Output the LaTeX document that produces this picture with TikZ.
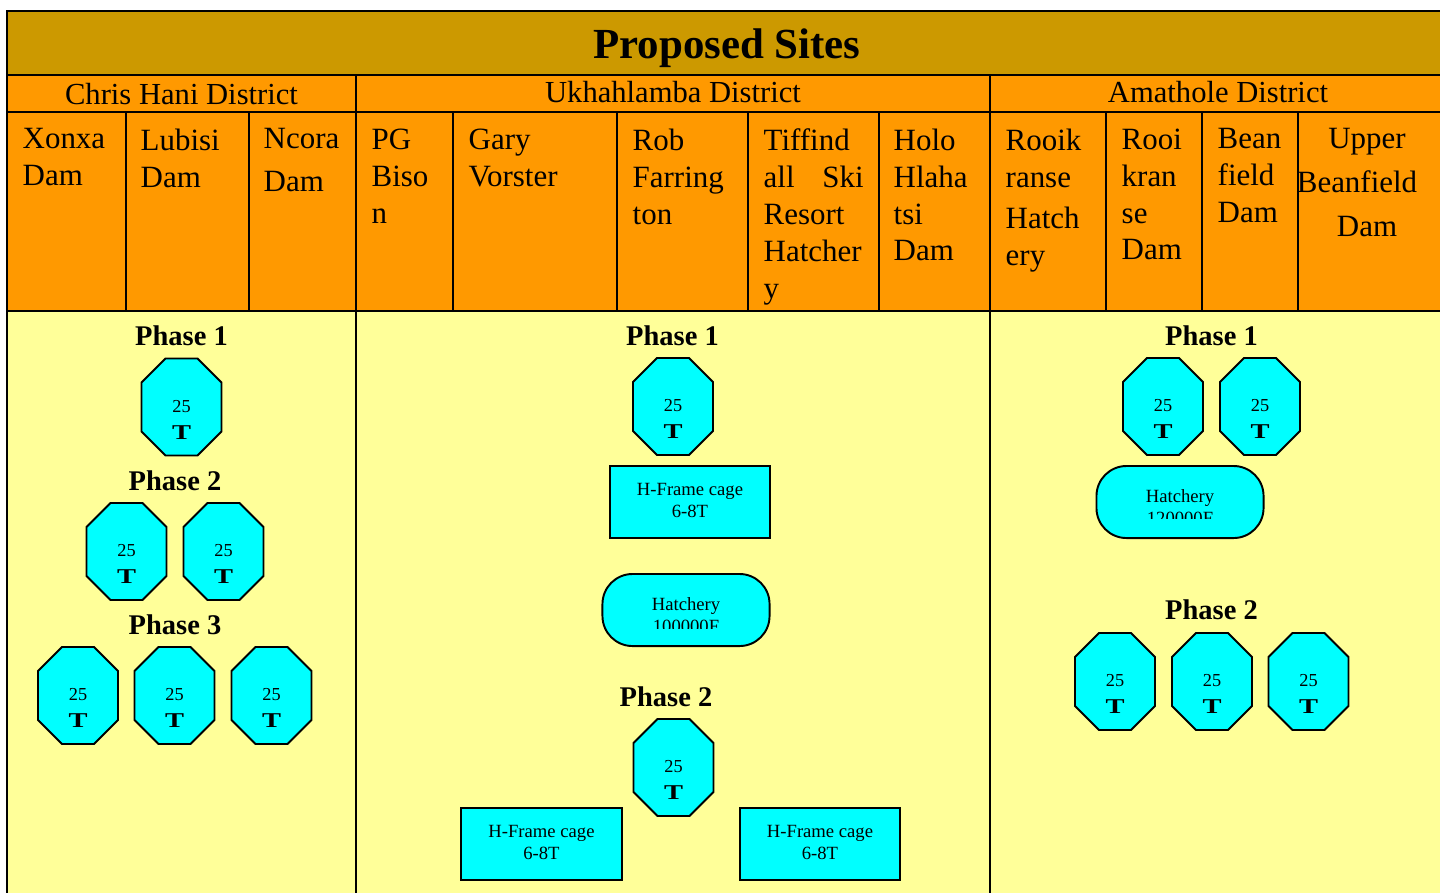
\documentclass[tikz,border=0pt]{standalone}
\usepackage{fontspec}
\setmainfont{Liberation Serif}
\usepackage{tikz}
\usetikzlibrary{calc}
\usepackage{xcolor}
\definecolor{titlegold}{HTML}{CC9900}
\definecolor{siteorange}{HTML}{FF9900}
\definecolor{bodyyellow}{HTML}{FFFF99}
\definecolor{tankcyan}{HTML}{00FFFF}
% octagonal 25T tank: name, centre
\newcommand{\tank}[2]{%
  \filldraw[fill=tankcyan,line width=0.55pt] (#2) ++(-16,-48.5) -- ++(32,0) -- ++(24,24) -- ++(0,49)
      -- ++(-24,24) -- ++(-32,0) -- ++(-24,-24) -- ++(0,-49) -- cycle;
  \node[tanktext] (#1) at ($(#2)+(0,12.5)$) {25\\{\bfseries\fontsize{6}{7.7}\selectfont\scalebox{1.35}[1]{T}}};
}

\begin{document}
\begin{tikzpicture}[x=0.01cm,y=-0.01cm,
    every node/.style={inner sep=0pt},
    site/.style={anchor=north west,align=left,font=\fontsize{8.8}{10.5}\selectfont},
    district/.style={font=\fontsize{8.7}{10.5}\selectfont},
    phase/.style={font=\bfseries\fontsize{8.1}{10}\selectfont},
    tanktext/.style={align=center,font=\fontsize{5.2}{7.7}\selectfont},
    cage/.style={draw,line width=0.55pt,fill=tankcyan,minimum width=1.6cm,minimum height=0.72cm,
        align=center,font=\fontsize{5.3}{6.2}\selectfont},
    hatch/.style={cage,minimum width=1.67cm,rounded corners=0.3cm},
    hatchtext/.style={align=center,font=\fontsize{5.3}{6.1}\selectfont},
    grid/.style={line width=0.6pt}]

    \useasboundingbox[fill=white] (0,0) rectangle (1440,893);

    % Table bands
    \fill[titlegold] (7,11) rectangle (1440,75);
    \fill[siteorange] (7,75) rectangle (1440,311);
    \fill[bodyyellow] (7,311) rectangle (1440,893);

    \draw[grid] (1440,11) -- (7,11) -- (7,893);
    \draw[grid] (7,75) -- (1440,75);
    \draw[grid] (7,112) -- (1440,112);
    \draw[grid] (7,311) -- (1440,311);
    \draw[grid] (356,75) -- (356,893);
    \draw[grid] (990,75) -- (990,893);
    \foreach \cx in {126,249,453,617,748,879,1106,1202,1298}
        \draw[grid] (\cx,112) -- (\cx,311);

    \node[font=\bfseries\fontsize{12.2}{14}\selectfont] (title) at (727,48) {Proposed Sites};

    \node[district] (chrishani) at (181.5,94.5) {Chris Hani District};
    \node[district] (ukhahlamba) at (673,92.5) {Ukhahlamba District};
    \node[district] (amathole) at (1218,92.5) {Amathole District};

    % Site names
    \node[site] (xonxa) at (22,128) {Xonxa\\Dam};
    \node[site] (lubisi) at (140,128) {Lubisi\\Dam};
    \node[site] (ncora) at (263,128) {Ncora\\[1.5pt]Dam};
    \node[site] (pgbison) at (371,128) {PG\\Biso\\n};
    \node[site] (gary) at (468,128) {Gary\\Vorster};
    \node[site] (rob) at (632,128) {Rob\\Farring\\ton};
    \node[site] (tiffindall) at (763,128) {Tiffind\\\makebox[1cm][s]{all Ski}\\Resort\\Hatcher\\y};
    \node[site] (holo) at (893,128) {Holo\\Hlaha\\tsi\\Dam};
    \node[site] (rooikranseH) at (1005,128) {Rooik\\ranse\\[1.2pt]Hatch\\ery};
    \node[site] (rooikranseD) at (1121,128) {Rooi\\kran\\se\\Dam};
    \node[site] (beanfield) at (1217,128) {Bean\\field\\Dam};
    \node[site,anchor=north,align=center,font=\fontsize{8.8}{12.5}\selectfont] (upper) at (1367,128)
        {Upper\\\hspace*{-0.2cm}Beanfield\\Dam};

    % Chris Hani
    \node[phase] (chP1) at (181.5,336) {Phase 1};
    \tank{chT1}{181.5,407}
    \node[phase] (chP2) at (175,481) {Phase 2};
    \tank{chT2}{126.5,551.5}
    \tank{chT3}{223.5,551.5}
    \node[phase] (chP3) at (175,625) {Phase 3};
    \tank{chT4}{78,695.5}
    \tank{chT5}{174.5,695.5}
    \tank{chT6}{271.5,695.5}

    % Ukhahlamba
    \node[phase] (ukP1) at (672.5,336) {Phase 1};
    \tank{ukT1}{673,406.5}
    \node[cage] (ukC1) at (690,502) {H-Frame cage\\6-8T\vphantom{g}};
    \node[hatch] (ukH1) at (686,610) {};
    \begin{scope}
        \clip (ukH1.north west) rectangle ($(ukH1.east)+(0,18)$);
        \node[hatchtext] (ukH1text) at ($(ukH1.center)+(0,5)$) {Hatchery\\100000F};
    \end{scope}
    \node[phase] (ukP2) at (666,697) {Phase 2};
    \tank{ukT2}{673.5,767.5}
    \node[cage] (ukC2) at (541.5,844) {H-Frame cage\\6-8T\vphantom{g}};
    \node[cage] (ukC3) at (820,844) {H-Frame cage\\6-8T\vphantom{g}};

    % Amathole
    \node[phase] (amP1) at (1211.5,336) {Phase 1};
    \tank{amT1}{1163,406.5}
    \tank{amT2}{1260,406.5}
    \node[hatch] (amH1) at (1180,502) {};
    \begin{scope}
        \clip (amH1.north west) rectangle ($(amH1.east)+(0,16)$);
        \node[hatchtext] (amH1text) at ($(amH1.center)+(0,5)$) {Hatchery\\120000F};
    \end{scope}
    \node[phase] (amP2) at (1211.5,610) {Phase 2};
    \tank{amT3}{1115,681.5}
    \tank{amT4}{1212,681.5}
    \tank{amT5}{1308.5,681.5}

\end{tikzpicture}
\end{document}
